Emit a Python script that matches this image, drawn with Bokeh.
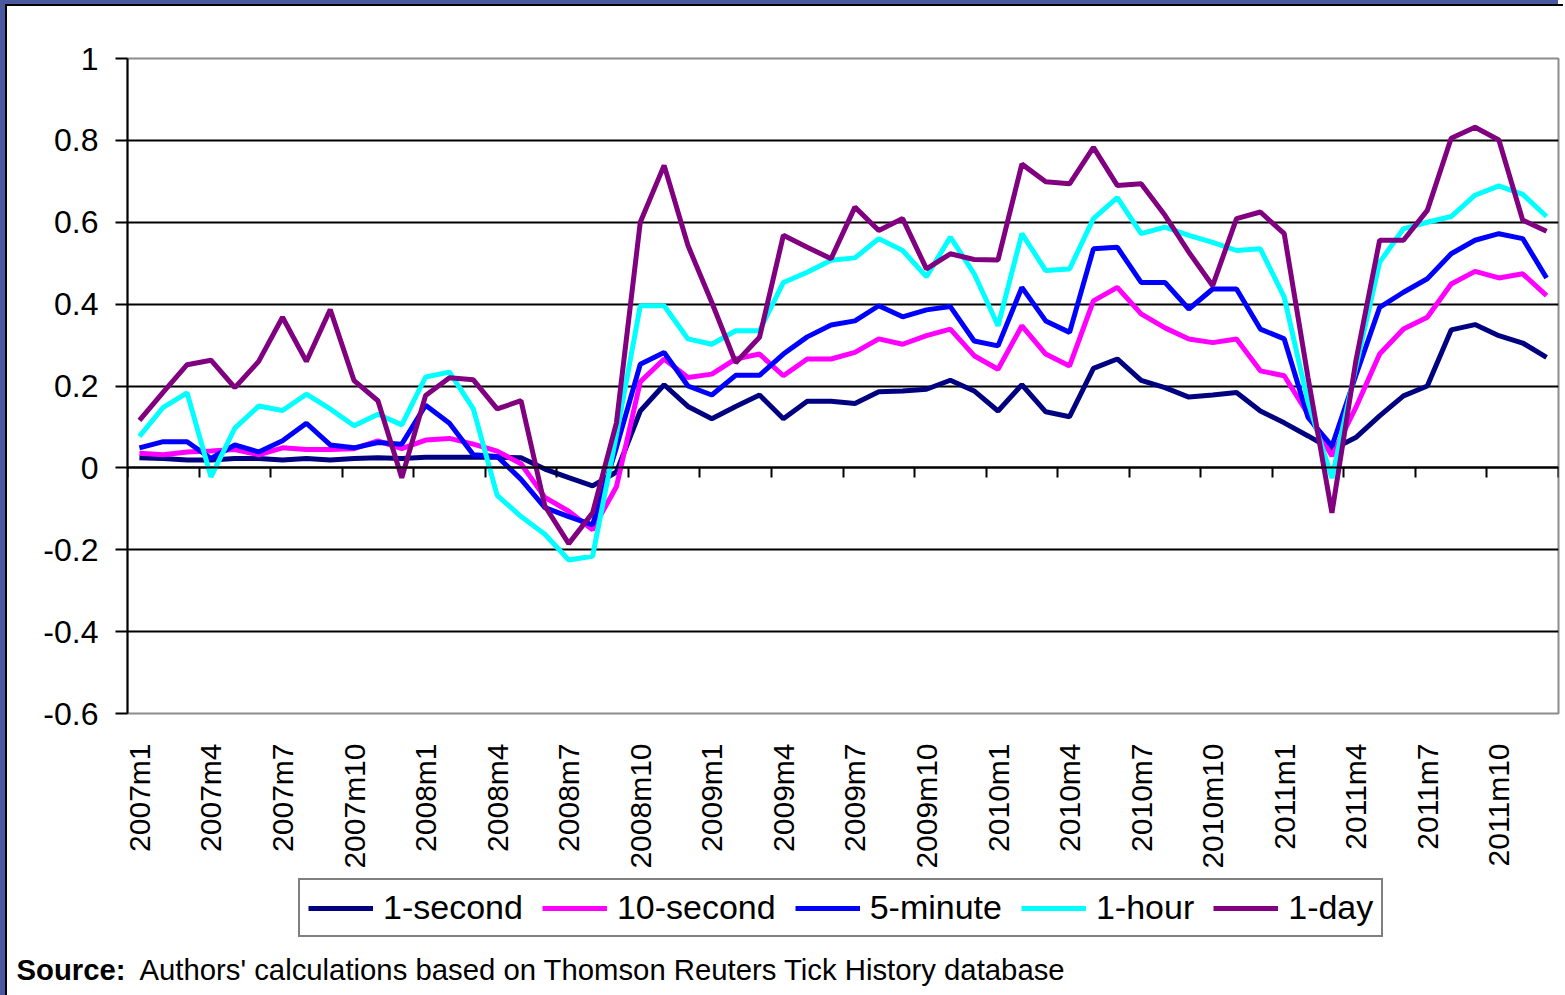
from math import pi

from bokeh.embed import file_html
from bokeh.models import (FixedTicker, Label, Legend, LegendItem, LinearAxis, Range1d)
from bokeh.plotting import figure
from bokeh.resources import INLINE

# Monthly periods, 2007m1 .. 2011m12
months = [f"{y}m{m}" for y in range(2007, 2012) for m in range(1, 13)]

one_second = [0.025, 0.023, 0.019, 0.019, 0.023, 0.023, 0.019, 0.023, 0.019, 0.023, 0.025, 0.023,
              0.026, 0.026, 0.026, 0.026, 0.025, -0.003, -0.024, -0.044, -0.010, 0.139,
              0.203, 0.150, 0.120, 0.150, 0.178, 0.120, 0.163, 0.163, 0.157, 0.186, 0.188, 0.192,
              0.214, 0.188, 0.139, 0.203, 0.137, 0.125,
              0.243, 0.266, 0.214, 0.196, 0.173, 0.178, 0.184, 0.139, 0.110, 0.078, 0.045, 0.074,
              0.127, 0.176, 0.200, 0.337, 0.350, 0.323, 0.305, 0.270]

ten_second = [0.036, 0.032, 0.039, 0.041, 0.045, 0.032, 0.049, 0.045, 0.045, 0.047, 0.066, 0.047,
              0.068, 0.072, 0.058, 0.041, 0.010, -0.072, -0.106, -0.151, -0.046, 0.210,
              0.266, 0.221, 0.229, 0.266, 0.278, 0.225, 0.266, 0.266, 0.282, 0.315, 0.302, 0.323,
              0.339, 0.274, 0.241, 0.347, 0.278, 0.249,
              0.408, 0.441, 0.376, 0.342, 0.315, 0.306, 0.315, 0.237, 0.225, 0.131, 0.029, 0.147,
              0.278, 0.339, 0.368, 0.449, 0.480, 0.464, 0.474, 0.421]

five_minute = [0.049, 0.064, 0.064, 0.023, 0.056, 0.039, 0.066, 0.109, 0.056, 0.049, 0.062, 0.058,
               0.153, 0.109, 0.032, 0.028, -0.028, -0.097, -0.119, -0.139, 0.050, 0.253,
               0.282, 0.200, 0.178, 0.226, 0.226, 0.278, 0.320, 0.349, 0.359, 0.396, 0.369, 0.386,
               0.394, 0.310, 0.298, 0.441, 0.359, 0.331,
               0.535, 0.539, 0.453, 0.453, 0.388, 0.437, 0.437, 0.339, 0.315, 0.123, 0.053, 0.225,
               0.392, 0.429, 0.462, 0.523, 0.556, 0.572, 0.560, 0.464]

one_hour = [0.077, 0.148, 0.183, -0.022, 0.097, 0.151, 0.140, 0.180, 0.144, 0.103, 0.131, 0.105,
            0.222, 0.234, 0.144, -0.067, -0.119, -0.162, -0.225, -0.216, 0.080, 0.396,
            0.396, 0.315, 0.302, 0.335, 0.335, 0.453, 0.478, 0.507, 0.513, 0.560, 0.531, 0.467,
            0.564, 0.474, 0.347, 0.572, 0.482, 0.486,
            0.609, 0.660, 0.572, 0.588, 0.568, 0.551, 0.531, 0.535, 0.417, 0.160, -0.025, 0.245,
            0.502, 0.584, 0.600, 0.614, 0.666, 0.689, 0.668, 0.614]

one_day = [0.116, 0.185, 0.252, 0.263, 0.196, 0.260, 0.368, 0.260, 0.387, 0.213, 0.164, -0.024,
           0.177, 0.220, 0.215, 0.144, 0.164, -0.093, -0.185, -0.110, 0.110, 0.600,
           0.739, 0.543, 0.404, 0.257, 0.319, 0.568, 0.539, 0.511, 0.637, 0.580, 0.609, 0.486,
           0.523, 0.509, 0.508, 0.742, 0.699, 0.694,
           0.783, 0.690, 0.694, 0.617, 0.527, 0.445, 0.609, 0.625, 0.572, 0.220, -0.110, 0.260,
           0.556, 0.556, 0.629, 0.805, 0.832, 0.801, 0.605, 0.578]

series_names = ["1-second", "10-second", "5-minute", "1-hour", "1-day"]
series_colors = ["#000080", "#FF00FF", "#0000FF", "#00FFFF", "#800080"]
series_values = [one_second, ten_second, five_minute, one_hour, one_day]

y_ticks = [-0.6, -0.4, -0.2, 0.0, 0.2, 0.4, 0.6, 0.8, 1.0]
y_tick_labels = ["-0.6", "-0.4", "-0.2", "0", "0.2", "0.4", "0.6", "0.8", "1"]

source_label = "Source:"
source_text = "Authors' calculations based on Thomson Reuters Tick History database"

FONT = "Liberation Sans"
LINE_W = 5
FRAME_BLUE = "#4a58a0"

# each month occupies one unit; points sit in the middle of their slot
x = [i + 0.5 for i in range(len(months))]

# ---------------------------------------------------------------- main chart
p = figure(width=1558, height=866, output_backend="svg", toolbar_location=None,
           x_range=Range1d(0, len(months)), y_range=Range1d(-0.6, 1.0),
           min_border_left=120, min_border_right=7, min_border_top=52,
           min_border_bottom=159, background_fill_color="white",
           border_fill_color="white",
           styles={"margin-left": "5px", "margin-top": "4px",
                   "border-left": "2px solid black", "border-top": "2px solid black",
                   "box-shadow": f"-5px -4px 0 0 {FRAME_BLUE}, -5px 0 0 0 {FRAME_BLUE}"})

p.outline_line_color = "#8c8c8c"
p.outline_line_width = 2

# horizontal gridlines (black, interior only)
p.xgrid.visible = False
p.ygrid.ticker = FixedTicker(ticks=y_ticks[1:-1])
p.ygrid.grid_line_color = "black"
p.ygrid.grid_line_width = 2

# value axis
yax = p.yaxis[0]
yax.ticker = FixedTicker(ticks=y_ticks)
yax.major_label_overrides = dict(zip(y_ticks, y_tick_labels))
yax.axis_line_color = "black"
yax.axis_line_width = 2
yax.major_tick_in = 0
yax.major_tick_out = 12
yax.major_tick_line_width = 2
yax.minor_tick_line_color = None
yax.major_label_text_font = FONT
yax.major_label_text_font_size = "32px"
yax.major_label_text_color = "black"
yax.major_label_standoff = 17

# month labels along the bottom, every third month
label_idx = list(range(0, len(months), 3))
xax = p.xaxis[0]
xax.ticker = FixedTicker(ticks=[x[i] for i in label_idx])
xax.major_label_overrides = {x[i]: months[i] for i in label_idx}
xax.major_label_orientation = pi / 2
xax.axis_line_color = None
xax.major_tick_line_color = None
xax.minor_tick_line_color = None
xax.major_label_text_font = FONT
xax.major_label_text_font_size = "30px"
xax.major_label_text_color = "black"
xax.major_label_standoff = 24

# zero line with quarterly tick marks hanging below it
zero_axis = LinearAxis(fixed_location=0,
                       ticker=FixedTicker(ticks=list(range(0, len(months) + 1, 3))),
                       axis_line_color="black", axis_line_width=2,
                       major_tick_in=10, major_tick_out=0, major_tick_line_width=2,
                       minor_tick_line_color=None, major_label_text_color=None)
p.add_layout(zero_axis, "above")

for color, vals in zip(series_colors, series_values):
    p.line(x, vals, line_color=color, line_width=LINE_W)

# ---------------------------------------------------------------- legend + note strip
q = figure(width=1558, height=125, output_backend="svg", toolbar_location=None,
           x_axis_location=None, y_axis_location=None,
           x_range=Range1d(0, 1556), y_range=Range1d(0, 125),
           min_border=0, min_border_left=0, min_border_right=0,
           min_border_top=0, min_border_bottom=0,
           background_fill_color="white", border_fill_color="white",
           styles={"margin-left": "5px", "border-left": "2px solid black",
                   "box-shadow": f"-5px 0 0 0 {FRAME_BLUE}"})
q.outline_line_color = None
q.grid.visible = False

# legend keys: styled line renderers with no visible points
nan = float("nan")
items = []
for name, color in zip(series_names, series_colors):
    key = q.line([nan, nan], [nan, nan], line_color=color, line_width=LINE_W)
    items.append(LegendItem(label=name, renderers=[key]))

legend = Legend(items=items, orientation="horizontal", location=(291, 58),
                label_text_font=FONT, label_text_font_size="34px",
                label_text_color="black", glyph_width=65, glyph_height=38,
                label_height=38, label_standoff=10, spacing=19, padding=8,
                margin=0, border_line_color="black", border_line_width=2,
                background_fill_color="white", background_fill_alpha=1.0)
q.add_layout(legend)

q.add_layout(Label(x=9, y=10, x_units="screen", y_units="screen",
                   text=source_label, text_font=FONT, text_font_style="bold",
                   text_font_size="29.3px", text_color="black"))
q.add_layout(Label(x=132, y=10, x_units="screen", y_units="screen",
                   text=source_text, text_font=FONT,
                   text_font_size="29.3px", text_color="black"))

open("out.html", "w").write(file_html([p, q], INLINE))
